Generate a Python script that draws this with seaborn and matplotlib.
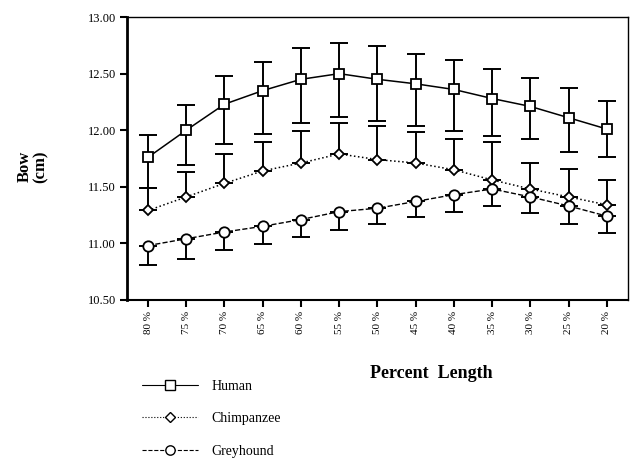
import numpy as np
import pandas as pd
import matplotlib
matplotlib.use("Agg")
import matplotlib.pyplot as plt
import seaborn as sns
from matplotlib.lines import Line2D

# percent length categories
categories = ["80%", "75%", "70%", "65%", "60%", "55%", "50%",
              "45%", "40%", "35%", "30%", "25%", "20%"]
tick_labels = ["80 %", "75 %", "70 %", "65 %", "60 %", "55 %", "50 %",
               "45 %", "40 %", "35 %", "30 %", "25 %", "20 %"]

human = [11.76, 12.00, 12.23, 12.35, 12.45, 12.50, 12.45, 12.41, 12.36, 12.28, 12.21, 12.11, 12.01]
human_upper = [11.96, 12.22, 12.48, 12.60, 12.73, 12.77, 12.74, 12.67, 12.62, 12.54, 12.46, 12.37, 12.26]
human_lower = [11.49, 11.69, 11.88, 11.97, 12.06, 12.12, 12.08, 12.04, 11.99, 11.95, 11.92, 11.81, 11.76]

chimp = [11.29, 11.41, 11.53, 11.64, 11.71, 11.79, 11.74, 11.71, 11.65, 11.56, 11.48, 11.41, 11.34]
chimp_upper = [11.49, 11.63, 11.79, 11.90, 11.99, 12.06, 12.04, 11.98, 11.92, 11.90, 11.71, 11.66, 11.56]

grey = [10.98, 11.04, 11.10, 11.15, 11.21, 11.28, 11.31, 11.37, 11.43, 11.48, 11.41, 11.33, 11.24]
grey_lower = [10.81, 10.86, 10.94, 10.99, 11.06, 11.12, 11.17, 11.23, 11.28, 11.33, 11.27, 11.17, 11.09]

sns.set_theme(style="white")
plt.rcParams["font.family"] = ["Liberation Serif", "DejaVu Serif"]
plt.rcParams["text.color"] = "black"
plt.rcParams["xtick.color"] = "black"
plt.rcParams["ytick.color"] = "black"

pos = np.arange(len(categories))
df = pd.DataFrame({
    "pos": np.tile(pos, 3),
    "Bow": human + chimp + grey,
    "Species": ["Human"] * 13 + ["Chimpanzee"] * 13 + ["Greyhound"] * 13,
})

fig = plt.figure(figsize=(6.33, 4.62), dpi=100)
ax = fig.add_axes([0.2006, 0.351, 0.7914, 0.612])

styles = {
    "Human": dict(ls="-", marker="s", ms=7.5, lw=1.1),
    "Chimpanzee": dict(ls=":", marker="D", ms=5.5, lw=1.1),
    "Greyhound": dict(ls="--", marker="o", ms=7.5, lw=1.0),
}

# error bars first so markers sit on top
err_kw = dict(fmt="none", ecolor="black", elinewidth=1.4, capsize=6.5, capthick=1.4)
h = np.array(human)
ax.errorbar(pos, h, yerr=[h - np.array(human_lower), np.array(human_upper) - h], **err_kw)
c = np.array(chimp)
ax.errorbar(pos, c, yerr=[np.zeros(13), np.array(chimp_upper) - c], **err_kw)
g = np.array(grey)
ax.errorbar(pos, g, yerr=[g - np.array(grey_lower), np.zeros(13)], **err_kw)

for sp, st in styles.items():
    sub = df[df["Species"] == sp]
    sns.lineplot(data=sub, x="pos", y="Bow", ax=ax, color="black",
                 linestyle=st["ls"], marker=st["marker"], markersize=st["ms"],
                 linewidth=st["lw"], markerfacecolor="white",
                 markeredgecolor="black", markeredgewidth=1.3, zorder=3)

ax.set_xlim(-0.55, 12.55)
ax.set_ylim(10.5, 13.0)
ax.set_yticks([10.5, 11.0, 11.5, 12.0, 12.5, 13.0])
ax.set_yticklabels(["10.50", "11.00", "11.50", "12.00", "12.50", "13.00"], fontsize=9)
ax.set_xticks(pos)
ax.set_xticklabels(tick_labels, rotation=90, fontsize=8)
ax.tick_params(axis="both", direction="out", length=5, width=1.5,
               bottom=True, left=True, color="black", labelcolor="black", pad=3)
for s in ax.spines.values():
    s.set_color("black")
    s.set_linewidth(1.0)
ax.spines["left"].set_linewidth(2.0)
ax.spines["bottom"].set_linewidth(1.5)
ax.grid(False)
ax.set_xlabel("")
ax.set_ylabel("")

fig.text(0.682, 0.192, "Percent  Length", ha="center", va="center",
         fontsize=13, fontweight="bold")
fig.text(0.052, 0.64, "Bow\n(cm)", ha="center", va="center", rotation=90,
         fontsize=12, fontweight="bold", linespacing=1.0)

handles = []
for sp, st in styles.items():
    handles.append(Line2D([], [], color="black", linestyle=st["ls"], linewidth=0.8,
                          marker=st["marker"], markersize=st["ms"] * 0.9,
                          markerfacecolor="white", markeredgecolor="black"))
fig.legend(handles, list(styles.keys()), loc="upper left",
           bbox_to_anchor=(0.205, 0.205), frameon=False, fontsize=10,
           handlelength=4.0, handletextpad=1.0, labelspacing=1.4)

fig.savefig("out.png", dpi=100)
